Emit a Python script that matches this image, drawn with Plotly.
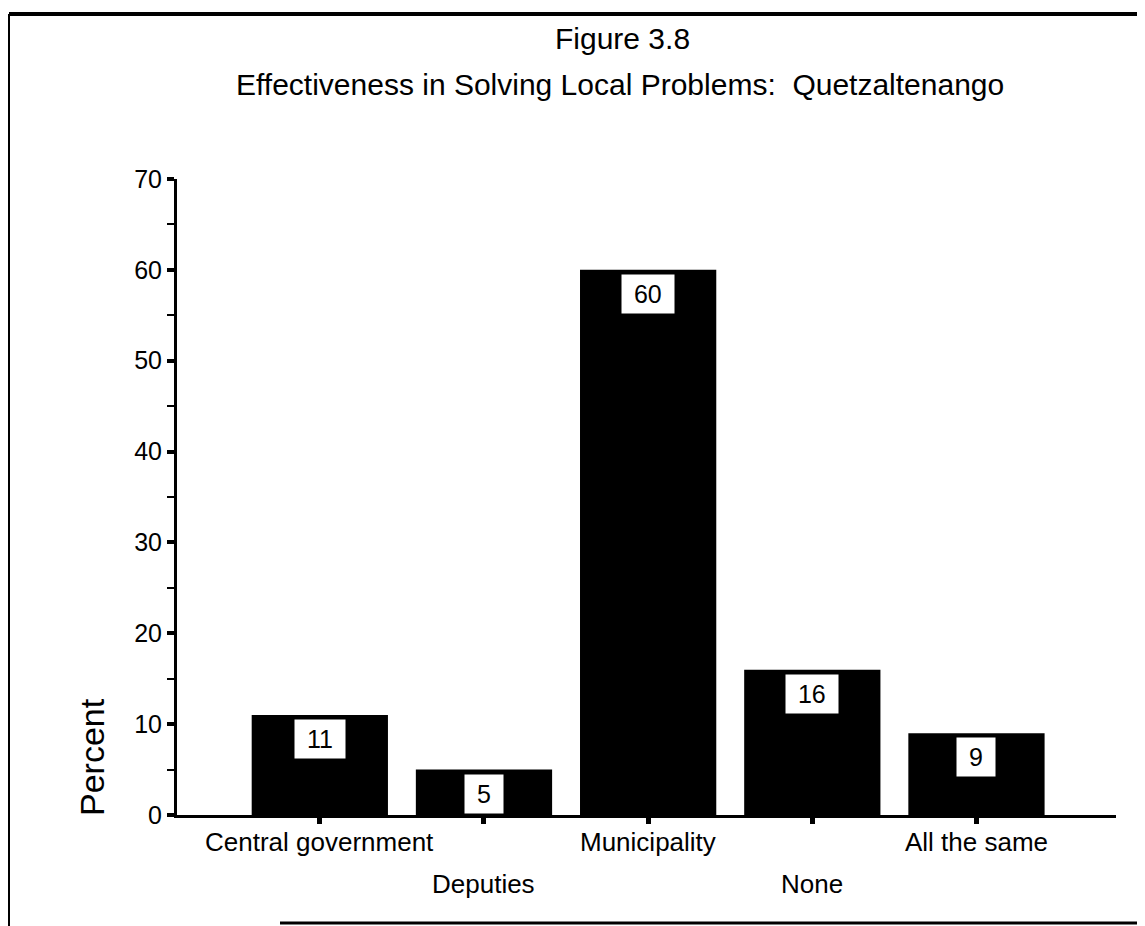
import plotly.graph_objects as go

# Figure 3.8 data (percent)
categories = ["Central government", "Deputies", "Municipality", "None", "All the same"]
percent = [11, 5, 60, 16, 9]
label_row = [0, 1, 0, 1, 0]  # staggered category labels
y_ticks = [0, 10, 20, 30, 40, 50, 60, 70]

FONT = "Liberation Sans, Arial, Helvetica, sans-serif"

# the page body keeps an 8px margin, so the figure is sized to fit inside it
W, H = 1137, 918
PLOT_L, PLOT_R, PLOT_T, PLOT_B = 177, 1116, 179, 815  # window pixels


def px(x):
    return (x - PLOT_L) / (PLOT_R - PLOT_L)


def py(y):
    return (PLOT_B - y) / (PLOT_B - PLOT_T)


fig = go.Figure()

fig.add_trace(
    go.Bar(
        x=categories,
        y=percent,
        width=0.83,
        marker=dict(color="black", line=dict(width=0)),
        hoverinfo="skip",
    )
)

annotations = []

# value boxes inside the top of each bar
for cat, val in zip(categories, percent):
    annotations.append(
        dict(
            x=cat, y=val, xref="x", yref="y",
            text=f"\u00a0{val}\u00a0",
            showarrow=False, yanchor="top", yshift=-4,
            bgcolor="white", borderpad=5,
            font=dict(family=FONT, size=25, color="black"),
        )
    )

# category labels, alternating rows
for cat, row in zip(categories, label_row):
    annotations.append(
        dict(
            x=cat, y=0, xref="x", yref="paper",
            text=cat, showarrow=False,
            yanchor="middle", yshift=-27 - 42 * row,
            font=dict(family=FONT, size=26, color="black"),
        )
    )

# titles and y label
annotations += [
    dict(x=px(622), y=py(38), xref="paper", yref="paper", text="Figure 3.8",
         showarrow=False, yanchor="middle",
         font=dict(family=FONT, size=30, color="black")),
    dict(x=px(620), y=py(85), xref="paper", yref="paper",
         text="Effectiveness in Solving Local Problems:\u00a0\u00a0Quetzaltenango",
         showarrow=False, yanchor="middle",
         font=dict(family=FONT, size=30, color="black")),
    dict(x=px(92), y=py(757), xref="paper", yref="paper", text="Percent",
         showarrow=False, textangle=-90, xanchor="center", yanchor="middle",
         font=dict(family=FONT, size=34, color="black")),
]

# page frame
shapes = [
    dict(type="line", xref="paper", yref="paper", x0=px(9), x1=px(1145), y0=py(14), y1=py(14),
         line=dict(color="black", width=4)),
    dict(type="line", xref="paper", yref="paper", x0=px(9), x1=px(9), y0=py(14), y1=py(926),
         line=dict(color="black", width=2)),
    dict(type="line", xref="paper", yref="paper", x0=px(280), x1=px(1145), y0=py(923), y1=py(923),
         line=dict(color="black", width=3)),
]

fig.update_layout(
    width=W,
    height=H,
    margin=dict(l=PLOT_L - 8, r=W - (PLOT_R - 8), t=PLOT_T - 8, b=H - (PLOT_B - 8)),
    plot_bgcolor="white",
    paper_bgcolor="white",
    showlegend=False,
    annotations=annotations,
    shapes=shapes,
    xaxis=dict(
        type="category",
        range=[-0.87, 4.85],
        showline=True, linecolor="black", linewidth=3,
        ticks="outside", ticklen=6, tickwidth=5, tickcolor="black",
        showticklabels=False,
        showgrid=False, zeroline=False,
    ),
    yaxis=dict(
        range=[0, 70],
        tickvals=y_ticks,
        showline=True, linecolor="black", linewidth=3,
        ticks="outside", ticklen=7, tickwidth=4, tickcolor="black",
        minor=dict(dtick=5, ticks="outside", ticklen=7, tickwidth=2, tickcolor="black"),
        tickfont=dict(family=FONT, size=25, color="black"),
        showgrid=False, zeroline=False,
    ),
)

fig.write_html("out.html")
